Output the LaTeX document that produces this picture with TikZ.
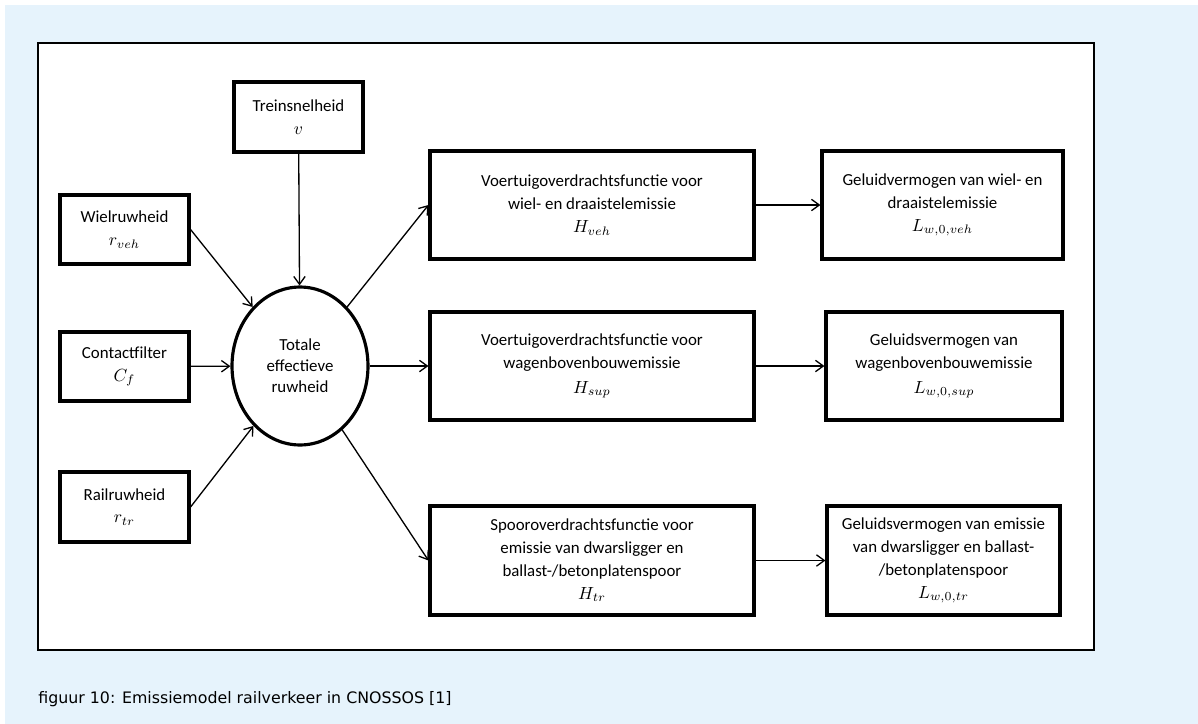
\documentclass[tikz,border=0pt]{standalone}
\usepackage{fontspec}
\setmainfont{Carlito}
\newfontfamily\captionfont{DejaVu Sans}
\usetikzlibrary{shapes.geometric,arrows.meta}
\definecolor{bgblue}{HTML}{E6F3FC}

\begin{document}
\begin{tikzpicture}[x=0.02cm, y=-0.02cm,
  blok/.style = {rectangle,
      draw = black,
      line width = 1.8pt,
      align = center,
      inner sep = 0pt,
      font = \fontsize{9.6pt}{13pt}\selectfont},
  pijl/.style = {-{Straight Barb[length=4.5pt,width=6.5pt]},
      line width = 0.75pt}]
  \useasboundingbox (0,0) rectangle (1198,724);
  % background and frame
  \fill[bgblue] (5,5) rectangle (1198,724);
  \draw[fill = white, line width = 1pt] (38,43) rectangle (1094,650);

  % inputs on the left
  \node[blok,
      minimum width = 2.58cm,
      minimum height = 1.4cm] (trein) at (298.5,117) {Treinsnelheid\\ $v$};
  \node[blok,
      minimum width = 2.58cm,
      minimum height = 1.38cm] (wiel) at (124.5,229.5) {Wielruwheid\\ $r_{veh}$};
  \node[blok,
      minimum width = 2.58cm,
      minimum height = 1.38cm] (contact) at (124.5,366.5) {Contactfilter\\ $C_f$};
  \node[blok,
      minimum width = 2.58cm,
      minimum height = 1.4cm] (rail) at (124.5,507) {Railruwheid\\ $r_{tr}$};

  % total roughness
  \node[ellipse,
      draw = black,
      line width = 1.8pt,
      align = center,
      inner sep = 0pt,
      font = \fontsize{9.6pt}{12pt}\selectfont,
      minimum width = 2.72cm,
      minimum height = 3.16cm] (tot) at (300,366) {Totale\\ effectieve\\ ruwheid};

  % transfer functions
  \node[blok,
      minimum width = 6.48cm,
      minimum height = 2.16cm] (voer) at (592,205)
      {Voertuigoverdrachtsfunctie voor\\ wiel- en draaistelemissie\\ $H_{veh}$};
  \node[blok,
      minimum width = 6.48cm,
      minimum height = 2.16cm] (wagen) at (592,366)
      {Voertuigoverdrachtsfunctie voor\\ wagenbovenbouwemissie\\[1pt] $H_{sup}$};
  \node[blok,
      minimum width = 6.48cm,
      minimum height = 2.18cm] (spoor) at (592,560.5)
      {Spooroverdrachtsfunctie voor\\ emissie van dwarsligger en\\ ballast-/betonplatenspoor\\ $H_{tr}$};

  % sound power
  \node[blok,
      minimum width = 4.82cm,
      minimum height = 2.16cm] (gvoer) at (942.5,205)
      {Geluidvermogen van wiel- en\\ draaistelemissie\\ $L_{w,0,veh}$};
  \node[blok,
      minimum width = 4.72cm,
      minimum height = 2.16cm] (gwagen) at (944,366)
      {Geluidsvermogen van\\ wagenbovenbouwemissie\\[1pt] $L_{w,0,sup}$};
  \node[blok,
      minimum width = 4.66cm,
      minimum height = 2.18cm] (gspoor) at (943.5,560.5)
      {Geluidsvermogen van emissie\\ van dwarsligger en ballast-\\ /betonplatenspoor\\ $L_{w,0,tr}$};

  % arrows into the ellipse
  \draw[pijl] (trein) -- (tot);
  \draw[pijl] (wiel.east) -- (tot);
  \draw[pijl] (contact) -- (tot);
  \draw[pijl] (rail.east) -- (tot);
  % arrows out of the ellipse
  \draw[pijl] (tot) -- (voer.west);
  \draw[pijl] (tot) -- (wagen.west);
  \draw[pijl] (tot) -- (spoor.west);
  \draw[pijl] (voer) -- (gvoer);
  \draw[pijl] (wagen) -- (gwagen);
  \draw[pijl] (spoor) -- (gspoor);

  % caption
  \node[anchor = west,
      inner sep = 0pt,
      font = \captionfont\fontsize{9pt}{11pt}\selectfont] (bijschrift) at (38,699)
      {figuur 10: Emissiemodel railverkeer in CNOSSOS [1]};
\end{tikzpicture}
\end{document}
